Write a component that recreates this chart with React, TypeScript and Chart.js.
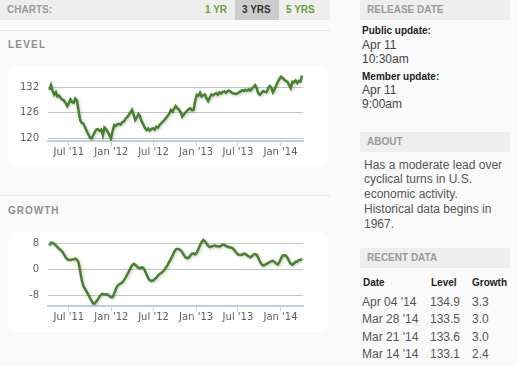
import React, { useEffect, useRef } from "react";
import { Chart, registerables } from "chart.js";
Chart.register(...registerables);

// Weekly observations, Apr 08 2011 .. Apr 04 2014
const startDate = Date.UTC(2011, 3, 8);
const levelValues = [
  131.5, 132.6, 131.2, 130.3, 130.9, 129.9, 130.1, 129.5, 129.2, 128.9,
  128.4, 127.6, 128.3, 129.2, 128.6, 128.4, 129.4, 129.0, 126.5, 124.3,
  123.6, 123.4, 122.6, 121.7, 120.9, 120.1, 119.9, 120.6, 121.4, 122.0,
  122.1, 121.7, 122.0, 120.7, 122.5, 122.1, 121.5, 120.7, 119.9, 121.6,
  123.1, 122.9, 123.3, 123.4, 123.2, 123.8, 123.9, 124.6, 125.0, 125.5,
  126.1, 126.7, 125.6, 124.3, 124.9, 125.7, 125.1, 123.9, 123.2, 122.4,
  121.9, 122.3, 121.8, 122.2, 122.3, 122.0, 122.7, 122.5, 123.1, 123.5,
  123.9, 124.3, 124.8, 125.3, 125.8, 126.7, 126.3, 127.0, 127.6, 127.1,
  126.8, 126.2, 125.1, 125.6, 126.1, 126.5, 126.9, 127.1, 126.6, 126.7,
  128.9, 130.3, 130.1, 130.8, 129.9, 130.2, 130.4, 129.5, 128.8, 129.6,
  130.4, 130.2, 130.5, 130.7, 130.3, 130.9, 130.6, 131.0, 131.1, 130.8,
  131.2, 131.3, 131.0, 130.7, 130.6, 130.5, 130.6, 130.9, 131.1, 131.4,
  131.2, 131.5, 131.3, 131.6, 131.3, 131.8, 132.2, 132.6, 131.9, 130.6,
  130.3, 130.8, 131.2, 131.0, 130.9, 131.8, 132.4, 132.0, 130.9, 131.6,
  132.5, 133.4, 134.1, 134.6, 134.3, 133.9, 133.6, 133.4, 132.6, 131.9,
  133.4, 133.3, 133.7, 133.1, 133.6, 133.5, 134.9,
];
const growthValues = [
  7.4, 8.3, 8.2, 7.9, 7.4, 6.9, 6.4, 6.0, 5.5, 4.7,
  3.8, 3.2, 3.0, 3.0, 3.1, 3.2, 3.4, 3.1, 2.2, -0.5,
  -3.2, -5.0, -5.9, -6.7, -7.6, -8.6, -9.5, -10.3, -10.3, -9.7,
  -9.0, -8.2, -7.6, -7.4, -7.6, -7.5, -7.6, -8.0, -8.4, -8.4,
  -7.3, -5.9, -4.9, -4.5, -4.2, -3.9, -3.2, -2.4, -1.5, -0.6,
  0.4, 1.3, 1.8, 1.5, 1.0, 0.6, 0.5, 0.7, 0.6, -0.3,
  -1.5, -2.6, -3.2, -3.4, -3.3, -2.9, -2.4, -1.8, -1.3, -1.0,
  -0.6, 0.0, 0.7, 1.5, 2.4, 3.3, 4.3, 5.4, 6.2, 6.4,
  6.3, 6.0, 5.3, 4.5, 3.8, 3.5, 3.7, 4.3, 4.9, 5.0,
  4.7, 5.2, 6.3, 7.5, 8.5, 9.1, 8.7, 8.0, 7.3, 6.9,
  7.1, 7.3, 7.4, 7.2, 7.2, 7.1, 7.3, 7.7, 7.6, 7.3,
  7.0, 6.9, 6.8, 6.6, 6.1, 5.4, 4.8, 4.6, 4.5, 4.6,
  4.9, 4.8, 4.4, 4.1, 3.8, 4.1, 4.6, 4.8, 4.6, 3.6,
  2.5, 1.7, 1.3, 1.5, 1.8, 2.1, 2.3, 2.6, 2.7, 2.4,
  1.9, 1.6, 2.3, 3.5, 4.3, 4.4, 4.3, 3.6, 2.6, 1.8,
  1.5, 1.9, 2.4, 2.4, 3.0, 3.0, 3.3,
];
const xTickDates = [
  Date.UTC(2011, 6, 1), Date.UTC(2012, 0, 1), Date.UTC(2012, 6, 1),
  Date.UTC(2013, 0, 1), Date.UTC(2013, 6, 1), Date.UTC(2014, 0, 1),
];
const xTickLabels = ["Jul '11", "Jan '12", "Jul '12", "Jan '13", "Jul '13", "Jan '14"];
const levelTicks = [120, 126, 132];
const growthTicks = [-8, 0, 8];

const recentDates = ["Apr 04 '14", "Mar 28 '14", "Mar 21 '14", "Mar 14 '14"];
const recentLevels = ["134.9", "133.5", "133.6", "133.1"];
const recentGrowth = ["3.3", "3.0", "3.0", "2.4"];

const DAY = 86400000;
const xTickValues = xTickDates.map((d) => (d - startDate) / DAY);

const shadowPlugin = {
  id: "lineShadow",
  beforeDatasetsDraw(chart: any) {
    const ctx = chart.ctx;
    ctx.save();
    ctx.shadowColor = "rgba(0,0,0,0.22)";
    ctx.shadowBlur = 3;
    ctx.shadowOffsetX = 1;
    ctx.shadowOffsetY = 1;
  },
  afterDatasetsDraw(chart: any) {
    chart.ctx.restore();
  },
};

const tickFont = { family: "'DejaVu Sans', sans-serif", size: 10 };

function LineChart(props: { values: number[]; yTicks: number[]; yMin: number; yMax: number }) {
  const ref = useRef<HTMLCanvasElement | null>(null);
  useEffect(() => {
    if (!ref.current) return;
    const data = props.values.map((v, i) => ({ x: i * 7, y: v }));
    const chart = new Chart(ref.current, {
      type: "line",
      data: {
        datasets: [
          {
            data,
            borderColor: "#44822b",
            borderWidth: 2.5,
            pointRadius: 0,
            tension: 0,
            fill: false,
          },
        ],
      },
      options: {
        animation: false,
        responsive: false,
        devicePixelRatio: 1,
        layout: { padding: { left: 0, right: 25, top: 6, bottom: 0 } },
        plugins: { legend: { display: false }, tooltip: { enabled: false } },
        scales: {
          x: {
            type: "linear",
            min: -6,
            max: (props.values.length - 1) * 7 + 4,
            afterBuildTicks: (s: any) => {
              s.ticks = xTickValues.map((v) => ({ value: v }));
            },
            afterFit: (s: any) => {
              s.height = 26;
              s.paddingLeft = 0;
              s.paddingRight = 0;
            },
            ticks: {
              autoSkip: false,
              maxRotation: 0,
              padding: 0,
              color: "#606060",
              font: tickFont,
              callback: (v: any) => {
                const i = xTickValues.indexOf(Number(v));
                return i >= 0 ? xTickLabels[i] : "";
              },
            },
            grid: {
              drawOnChartArea: false,
              drawTicks: true,
              tickLength: 5,
              color: "#c0d0e0",
              tickColor: "#c0d0e0",
              tickWidth: 1,
            },
            border: { display: true, color: "#c0d0e0", width: 2 },
          },
          y: {
            min: props.yMin,
            max: props.yMax,
            afterBuildTicks: (s: any) => {
              s.ticks = props.yTicks.map((v) => ({ value: v }));
            },
            afterFit: (s: any) => {
              s.width = 40;
              s.paddingTop = 0;
              s.paddingBottom = 0;
            },
            ticks: { padding: 9, color: "#606060", font: tickFont },
            grid: { color: "#c4c4c4", lineWidth: 1, drawTicks: false },
            border: { display: false },
          },
        },
      },
      plugins: [shadowPlugin],
    } as any);
    return () => chart.destroy();
  }, []);
  return <canvas ref={ref} width={320} height={100} style={{ display: "block", width: 320, height: 100 }} />;
}

const sans = "'Liberation Sans', Arial, sans-serif";

function T(props: { x: number; cy: number; lh?: number; size?: number; bold?: boolean; color?: string; ls?: number; children: any }) {
  const lh = props.lh ?? 14;
  return (
    <div
      style={{
        position: "absolute",
        left: props.x,
        top: props.cy - lh / 2,
        lineHeight: lh + "px",
        fontSize: props.size ?? 12,
        fontWeight: props.bold ? "bold" : "normal",
        color: props.color ?? "#444",
        letterSpacing: props.ls ?? 0,
        whiteSpace: "nowrap",
        fontFamily: sans,
      }}
    >
      {props.children}
    </div>
  );
}

function Bar(props: { x: number; y: number; w: number; label: string }) {
  return (
    <>
      <div style={{ position: "absolute", left: props.x, top: props.y, width: props.w, height: 20, background: "#eeeeee" }} />
      <T x={props.x + 7} cy={props.y + 10} size={10} bold color="#9a9a9a">
        {props.label}
      </T>
    </>
  );
}

export default function App() {
  return (
    <div
      style={{
        position: "fixed",
        left: 0,
        top: 0,
        width: 517,
        height: 366,
        overflow: "hidden",
        background: "#fafafa",
        fontFamily: sans,
      }}
    >
      {/* Left header */}
      <div style={{ position: "absolute", left: 0, top: 0, width: 330, height: 20, background: "#eeeeee" }} />
      <div style={{ position: "absolute", left: 235, top: 0, width: 44, height: 20, background: "#cccccc" }} />
      <T x={7} cy={10} size={10} bold color="#9a9a9a">CHARTS:</T>
      <T x={205} cy={10} size={10} bold color="#6f9e3a">1 YR</T>
      <T x={242} cy={10} size={10} bold color="#333">3 YRS</T>
      <T x={286} cy={10} size={10} bold color="#6f9e3a">5 YRS</T>
      <div style={{ position: "absolute", left: 0, top: 30, width: 330, height: 1, background: "#e6e6e6" }} />

      <T x={8} cy={45} size={10} bold color="#8f8f8f" ls={1.2}>LEVEL</T>
      <div style={{ position: "absolute", left: 8, top: 67, width: 320, height: 100, background: "#fff", borderRadius: 8 }}>
        <LineChart values={levelValues} yTicks={levelTicks} yMin={119.3} yMax={135.5} />
      </div>

      <div style={{ position: "absolute", left: 0, top: 195, width: 330, height: 1, background: "#e6e6e6" }} />
      <T x={8} cy={211} size={10} bold color="#8f8f8f" ls={1}>GROWTH</T>
      <div style={{ position: "absolute", left: 8, top: 232, width: 320, height: 100, background: "#fff", borderRadius: 8 }}>
        <LineChart values={growthValues} yTicks={growthTicks} yMin={-11.1} yMax={9.7} />
      </div>

      {/* Right column */}
      <Bar x={360} y={0} w={150} label="RELEASE DATE" />
      <T x={362} cy={31} size={10} bold color="#222">Public update:</T>
      <T x={362} cy={44.5} size={12}>Apr 11</T>
      <T x={362} cy={59} size={12}>10:30am</T>
      <T x={362} cy={76.5} size={10} bold color="#222">Member update:</T>
      <T x={362} cy={90} size={12}>Apr 11</T>
      <T x={362} cy={104} size={12}>9:00am</T>

      <Bar x={360} y={132} w={150} label="ABOUT" />
      <div
        style={{
          position: "absolute",
          left: 364,
          top: 157.5,
          width: 150,
          fontSize: 12,
          lineHeight: "14.8px",
          color: "#555",
          fontFamily: sans,
          whiteSpace: "nowrap",
        }}
      >
        Has a moderate lead over
        <br />
        cyclical turns in U.S.
        <br />
        economic activity.
        <br />
        Historical data begins in
        <br />
        1967.
      </div>

      <Bar x={360} y={248} w={150} label="RECENT DATA" />
      <T x={363} cy={282.5} size={10} bold color="#222">Date</T>
      <T x={431} cy={282.5} size={10} bold color="#222">Level</T>
      <T x={472} cy={282.5} size={10} bold color="#222">Growth</T>
      {recentDates.map((d, i) => (
        <React.Fragment key={d}>
          <T x={362} cy={301.5 + i * 17.5} size={12} color="#555">{d}</T>
          <T x={430} cy={301.5 + i * 17.5} size={12} color="#555">{recentLevels[i]}</T>
          <T x={472} cy={301.5 + i * 17.5} size={12} color="#555">{recentGrowth[i]}</T>
        </React.Fragment>
      ))}
    </div>
  );
}
